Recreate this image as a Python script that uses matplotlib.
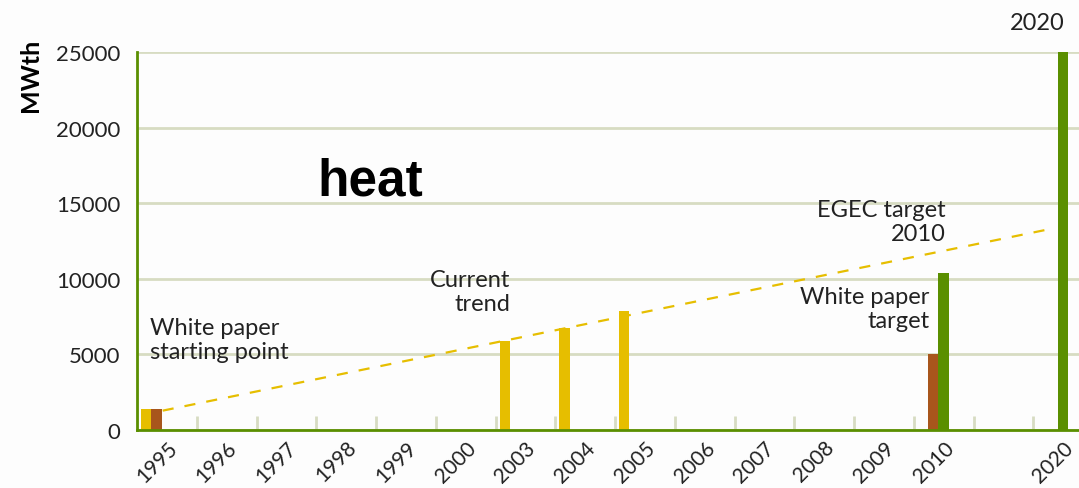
import matplotlib
matplotlib.use("Agg")
import matplotlib.pyplot as plt

# categorias del eje x (hay una vacia entre 2010 y 2020)
categorias = ['1995', '1996', '1997', '1998', '1999', '2000', '2003', '2004',
              '2005', '2006', '2007', '2008', '2009', '2010', '', '2020']

# series (MWth)
tendencia_actual = [1400, 0, 0, 0, 0, 0, 5900, 6750, 7900, 0, 0, 0, 0, 0, 0, 0]
libro_blanco = [1400, 0, 0, 0, 0, 0, 0, 0, 0, 0, 0, 0, 0, 5000, 0, 0]
objetivo_egec = [0, 0, 0, 0, 0, 0, 0, 0, 0, 0, 0, 0, 0, 10400, 0, 25000]

# linea de tendencia (posicion en categorias, valor)
tendencia_pos = [-0.07, 14.73]
tendencia_val = [1280, 13250]

AMARILLO = '#E6BE00'
MARRON = '#A8561C'
VERDE = '#5A8F00'
REJILLA = '#D7DCC2'
FUENTE = ['Lato', 'DejaVu Sans']

fig = plt.figure(figsize=(10.79, 4.89), dpi=100)
fig.patch.set_facecolor('#FDFDFD')
ax = fig.add_axes([137 / 1079, 58 / 489, (1093 - 137) / 1079, 378 / 489])
ax.set_facecolor('#FDFDFD')

x = list(range(len(categorias)))
ancho = 0.175
ax.bar([i - 0.345 for i in x], tendencia_actual, width=ancho, color=AMARILLO, zorder=3)
ax.bar([i - 0.17 for i in x], libro_blanco, width=ancho, color=MARRON, zorder=3)
ax.bar([i + 0.0 for i in x], objetivo_egec, width=ancho, color=VERDE, zorder=3)

ax.plot(tendencia_pos, tendencia_val, color=AMARILLO, lw=1.6,
        dashes=(5, 5), zorder=4)

ax.set_xlim(-0.5, len(categorias) - 0.5)
ax.set_ylim(0, 25000)
ax.set_yticks([0, 5000, 10000, 15000, 20000, 25000])
ax.set_yticklabels(['0', '5000', '10000', '15000', '20000', '25000'],
                   family=FUENTE, fontsize=16, color='#222222')
ax.tick_params(axis='y', length=0, pad=12)
ax.yaxis.grid(True, color=REJILLA, lw=2)
ax.set_axisbelow(True)

ax.set_xticks(x)
ax.set_xticklabels(categorias, rotation=45, ha='right', rotation_mode='anchor',
                   family=FUENTE, fontsize=15, color='#222222')
ax.tick_params(axis='x', length=0, pad=5)
ax.set_xticks([i + 0.5 for i in x[:-1]], minor=True)
ax.tick_params(axis='x', which='minor', direction='in', length=10,
               width=2, color=REJILLA)

for lado in ['top', 'right']:
    ax.spines[lado].set_visible(False)
for lado in ['left', 'bottom']:
    ax.spines[lado].set_color(VERDE)
    ax.spines[lado].set_linewidth(2)
    ax.spines[lado].set_zorder(5)

estilo = dict(family=FUENTE, fontsize=17, color='#222222', va='top', linespacing=1.2)
ax.text(-0.28, 7470, 'White paper\nstarting point', ha='left', **estilo)
ax.text(5.75, 10650, 'Current\ntrend', ha='right', multialignment='right', **estilo)
ax.text(13.03, 15280, 'EGEC target\n2010', ha='right', multialignment='right', **estilo)
ax.text(12.76, 9520, 'White paper\ntarget', ha='right', multialignment='right', **estilo)

ax.text(3.4, 16500, 'heat', family=['Liberation Sans', 'DejaVu Sans'],
        fontsize=37, fontweight='bold', color='black', ha='center', va='center')

fig.text(1065 / 1079, 1 - 13 / 489, '2020', family=FUENTE, fontsize=17,
         color='#222222', ha='right', va='top')
fig.text(30 / 1079, 1 - 75 / 489, 'MWth', family=FUENTE, fontsize=18,
         fontweight='bold', rotation=90, ha='center', va='center')

fig.savefig('out.png', dpi=100, facecolor=fig.get_facecolor())
